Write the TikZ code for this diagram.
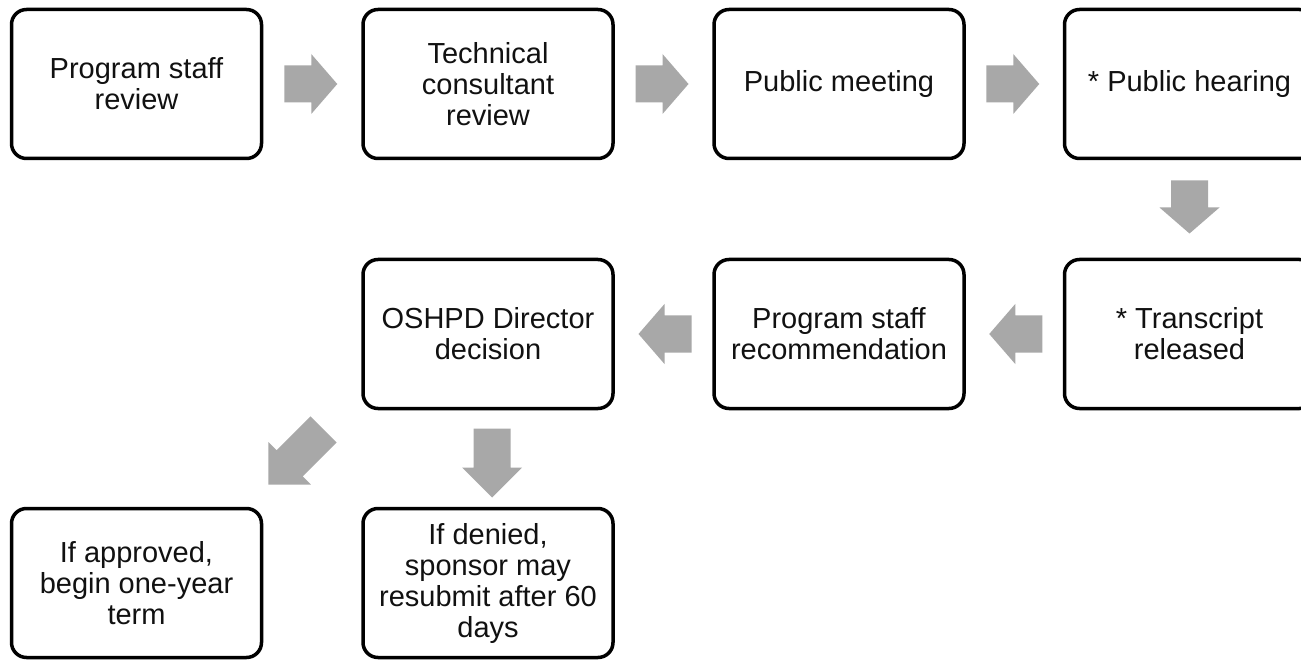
\documentclass[tikz,border=0pt]{standalone}
\usepackage{fontspec}
\setmainfont{Liberation Sans}
\usetikzlibrary{calc}
\definecolor{arrowgray}{HTML}{A8A8A8}
\definecolor{boxtext}{HTML}{111111}
% #1 = named coordinate (centre), #2 = angle, #3 = length (pt), #4 = head length (pt)
\newcommand\myblockarrow[4]{%
  \begin{scope}[shift={(#1)}, rotate=#2]
    \fill[arrowgray] ({-0.5*#3pt},-18.5pt) -- ({0.5*#3pt-#4pt},-18.5pt) -- ({0.5*#3pt-#4pt},-30pt)
      -- ({0.5*#3pt},0pt) -- ({0.5*#3pt-#4pt},30pt) -- ({0.5*#3pt-#4pt},18.5pt)
      -- ({-0.5*#3pt},18.5pt) -- cycle;
  \end{scope}}
\begin{document}
\begin{tikzpicture}[
  stepbox/.style={draw=black, line width=3.5pt, rounded corners=15pt, fill=white,
    minimum width=250pt, minimum height=149pt, align=center, inner sep=4pt,
    text=boxtext, font=\fontsize{29}{31}\selectfont}
]
\clip (0,0) rectangle (1301pt,-660pt);
\fill[white] (0,0) rectangle (1301pt,-660pt);
% row 1
\node[stepbox] (b1) at (136.5pt,-84pt) {Program staff\\review};
\node[stepbox] (b2) at (488pt,-84pt) {Technical\\consultant\\review};
\node[stepbox] (b3) at (839pt,-84pt) {Public meeting};
\node[stepbox] (b4) at (1189.5pt,-84pt) {* Public hearing};
% row 2
\node[stepbox] (b5) at (1189.5pt,-334pt) {* Transcript\\released};
\node[stepbox] (b6) at (839pt,-334pt) {Program staff\\recommendation};
\node[stepbox] (b7) at (488pt,-334pt) {OSHPD Director\\decision};
% row 3
\node[stepbox] (b8) at (136.5pt,-583pt) {If approved,\\begin one-year\\term};
\node[stepbox] (b9) at (488pt,-583pt) {If denied,\\sponsor may\\resubmit after 60\\days};
% arrow centres
\coordinate (a1) at ($(b1.east)!0.5!(b2.west)+(-1.5pt,0)$);
\coordinate (a2) at ($(b2.east)!0.5!(b3.west)+(-1.5pt,0)$);
\coordinate (a3) at ($(b3.east)!0.5!(b4.west)+(-1.5pt,0)$);
\coordinate (a4) at ($(b4.south)!0.5!(b5.north)+(0,2pt)$);
\coordinate (a5) at ($(b5.west)!0.5!(b6.east)+(1.5pt,0)$);
\coordinate (a6) at ($(b6.west)!0.5!(b7.east)+(1.5pt,0)$);
\coordinate (a7) at ($(b7.south)!0.5!(b9.north)+(4pt,-4.5pt)$);
\coordinate (a8) at (296pt,-457pt);
\myblockarrow{a1}{0}{53}{26}
\myblockarrow{a2}{0}{53}{26}
\myblockarrow{a3}{0}{53}{26}
\myblockarrow{a4}{-90}{53}{26}
\myblockarrow{a5}{180}{53}{26}
\myblockarrow{a6}{180}{53}{26}
\myblockarrow{a7}{-90}{69}{30}
\myblockarrow{a8}{225}{78}{30}
\end{tikzpicture}
\end{document}
